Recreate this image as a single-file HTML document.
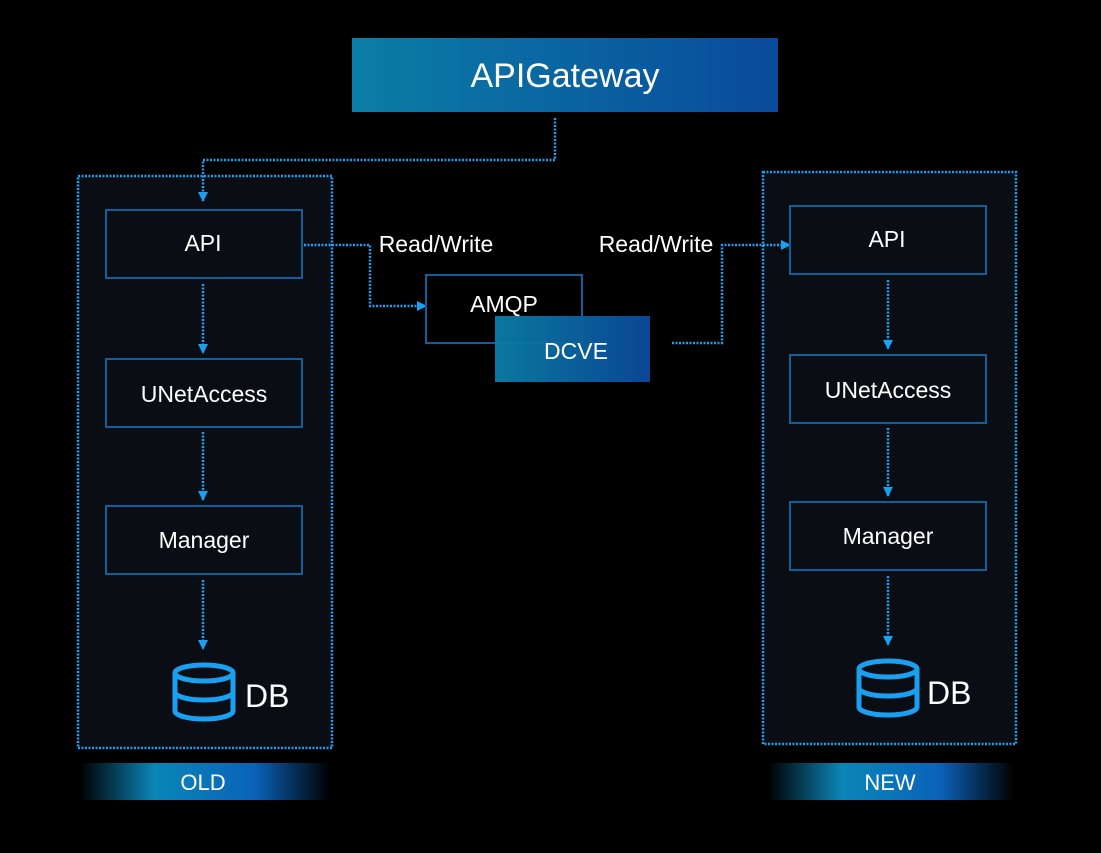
<!DOCTYPE html>
<html><head><meta charset="utf-8"><style>
body{margin:0;background:#000;width:1101px;height:848px;overflow:hidden;font-family:"Liberation Sans",sans-serif;}
</style></head><body>
<svg width="1101" height="848" xmlns="http://www.w3.org/2000/svg">
<defs>
<linearGradient id="g1" x1="0" x2="1"><stop offset="0" stop-color="#0a7ea6"/><stop offset="1" stop-color="#0a4a9c"/></linearGradient>
<linearGradient id="g2" x1="0" x2="1"><stop offset="0" stop-color="#000"/><stop offset="0.3" stop-color="#0a86b8"/><stop offset="0.7" stop-color="#0a62b8"/><stop offset="1" stop-color="#000"/></linearGradient>
<marker id="ar" markerWidth="12" markerHeight="12" refX="9" refY="5" orient="auto" markerUnits="userSpaceOnUse"><path d="M0,0 L10,5 L0,10z" fill="#1aa0f0"/></marker>
</defs>
<rect x="352" y="38" width="426" height="74" fill="url(#g1)"/>
<text x="565" y="87" fill="#fff" font-size="34" text-anchor="middle">APIGateway</text>
<rect x="78" y="176" width="254" height="572" fill="#0a0d14"/>
<rect x="763" y="172" width="253" height="572" fill="#0a0d14"/>
<g fill="none" stroke="#1aa0f0" stroke-width="2.5" stroke-dasharray="2 1.5">
<polyline points="555,118 555,160 203,160 203,201" marker-end="url(#ar)"/>
<rect x="78" y="176" width="254" height="572"/>
<rect x="763" y="172" width="253" height="572"/>
<line x1="203" y1="284" x2="203" y2="353" marker-end="url(#ar)"/>
<line x1="203" y1="432" x2="203" y2="500" marker-end="url(#ar)"/>
<line x1="203" y1="580" x2="203" y2="649" marker-end="url(#ar)"/>
<line x1="888" y1="280" x2="888" y2="349" marker-end="url(#ar)"/>
<line x1="888" y1="428" x2="888" y2="496" marker-end="url(#ar)"/>
<line x1="888" y1="576" x2="888" y2="645" marker-end="url(#ar)"/>
<polyline points="304,245 370,245 370,306 426,306" marker-end="url(#ar)"/>
<polyline points="672,343 722,343 722,245 790,245" marker-end="url(#ar)"/>
</g>
<g fill="none" stroke="#0f5f9a" stroke-width="2">
<rect x="106" y="210" width="196" height="68"/>
<rect x="106" y="359" width="196" height="68"/>
<rect x="106" y="506" width="196" height="68"/>
<rect x="790" y="206" width="196" height="68"/>
<rect x="790" y="355" width="196" height="68"/>
<rect x="790" y="502" width="196" height="68"/>
<rect x="426" y="275" width="156" height="68"/>
</g>
<rect x="495" y="316" width="155" height="66" fill="url(#g1)" opacity="0.95"/>
<g fill="#fff" font-size="23" text-anchor="middle">
<text x="203" y="251">API</text>
<text x="204" y="402">UNetAccess</text>
<text x="204" y="548">Manager</text>
<text x="887" y="247">API</text>
<text x="888" y="398">UNetAccess</text>
<text x="888" y="544">Manager</text>
<text x="504" y="312">AMQP</text>
<text x="576" y="359">DCVE</text>
<text x="436" y="252">Read/Write</text>
<text x="656" y="252">Read/Write</text>
</g>
<rect x="80" y="763" width="250" height="37" fill="url(#g2)"/>
<rect x="768" y="763" width="246" height="37" fill="url(#g2)"/>
<g fill="#fff" font-size="22" text-anchor="middle"><text x="203" y="790">OLD</text><text x="890" y="790">NEW</text></g>
<g fill="none" stroke="#1aa0f0" stroke-width="5">
<g transform="translate(174,664)"><ellipse cx="30" cy="9" rx="29" ry="8"/><path d="M1,9 V47 A29,8 0 0 0 59,47 V9"/><path d="M1,28 A29,8 0 0 0 59,28"/></g>
<g transform="translate(858,660)"><ellipse cx="30" cy="9" rx="29" ry="8"/><path d="M1,9 V47 A29,8 0 0 0 59,47 V9"/><path d="M1,28 A29,8 0 0 0 59,28"/></g>
</g>
<g fill="#fff" font-size="32"><text x="245" y="707">DB</text><text x="927" y="704">DB</text></g>
</svg>
</body></html>
